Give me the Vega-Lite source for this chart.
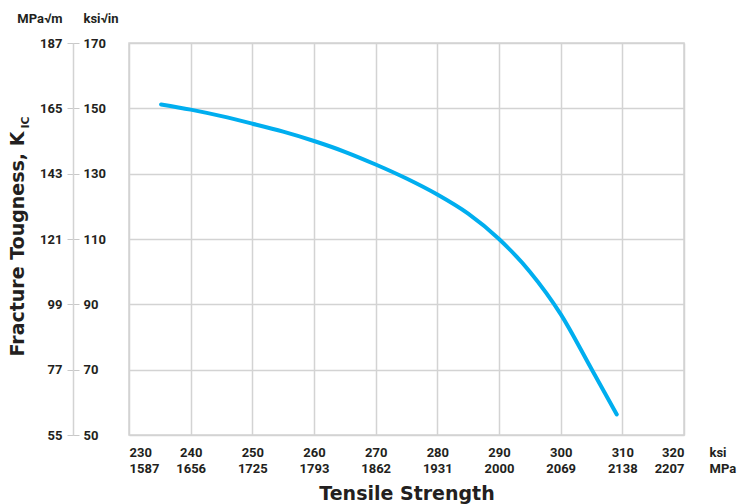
{
  "$schema": "https://vega.github.io/schema/vega-lite/v6.json",
  "width": 555,
  "height": 392,
  "autosize": "none",
  "padding": {"left": 129, "top": 43, "right": 55, "bottom": 69},
  "background": "white",
  "config": {
    "view": {"stroke": "#d3d3d3", "strokeWidth": 1.5},
    "axis": {
      "labelFont": "Roboto", "labelFontWeight": "bold", "labelFontSize": 13, "labelColor": "#231f20",
      "titleFont": "Roboto", "titleFontWeight": "bold", "titleColor": "#231f20",
      "gridColor": "#d3d3d3", "gridWidth": 1.5, "gridOpacity": 1
    }
  },
  "data": {"values": [
    {"ksi": 235.2, "k": 151.2},
    {"ksi": 240, "k": 149.6},
    {"ksi": 245, "k": 147.6},
    {"ksi": 250, "k": 145.3},
    {"ksi": 255, "k": 142.85},
    {"ksi": 260, "k": 140.0},
    {"ksi": 265, "k": 136.7},
    {"ksi": 270, "k": 132.8},
    {"ksi": 275, "k": 128.5},
    {"ksi": 280, "k": 123.6},
    {"ksi": 285, "k": 117.75},
    {"ksi": 290, "k": 110.0},
    {"ksi": 295, "k": 100.0},
    {"ksi": 300, "k": 87.0},
    {"ksi": 305, "k": 70.2},
    {"ksi": 309.1, "k": 56.3}
  ]},
  "layer": [
    {
      "mark": {"type": "line", "color": "#00aeef", "strokeWidth": 4, "interpolate": "monotone", "strokeCap": "round"},
      "encoding": {
        "x": {"field": "ksi", "type": "quantitative",
          "scale": {"domain": [230, 320], "nice": false, "zero": false},
          "axis": {"values": [230,240,250,260,270,280,290,300,310,320], "grid": true, "domain": false, "ticks": false, "tickSize": 0,
            "labelPadding": 11, "labelLineHeight": 16,
            "labelExpr": "[datum.label, ['1587','1656','1725','1793','1862','1931','2000','2069','2138','2207'][round((datum.value-230)/10)]]",
            "title": "Tensile Strength", "titleFont": "DejaVu Sans", "titleFontSize": 19, "titleBaseline": "alphabetic", "titleY": 64, "titleAnchor": "middle"}},
        "y": {"field": "k", "type": "quantitative",
          "scale": {"domain": [50, 170], "nice": false, "zero": false},
          "axis": {"orient": "left", "offset": 50, "values": [50,70,90,110,130,150,170], "grid": true, "domain": false,
            "ticks": true, "tickSize": 12, "tickColor": "#c8c8c8", "tickWidth": 1,
            "labelPadding": 5, "labelExpr": "format(datum.value*1.0988, 'd')",
            "title": "MPa√m", "titleAngle": 0, "titleAlign": "right", "titleBaseline": "middle", "titleFontSize": 13, "titleX": -17, "titleY": -25}}
      }
    },
    {
      "mark": {"type": "line", "opacity": 0},
      "encoding": {
        "x": {"field": "ksi", "type": "quantitative",
          "axis": {"orient": "bottom", "grid": false, "domain": false, "ticks": false, "labels": false,
            "title": ["ksi", "MPa"], "titleFontSize": 13, "titleAngle": 0, "titleAlign": "left", "titleBaseline": "top", "titleLineHeight": 16, "titleX": 580, "titleY": 11}},
        "y": {"field": "k", "type": "quantitative",
          "axis": {"orient": "left", "offset": 46, "values": [50,70,90,110,130,150,170], "grid": false, "domain": false,
            "ticks": false, "tickSize": 0, "labelPadding": 0, "labelAlign": "left",
            "title": "ksi√in", "titleAngle": 0, "titleAlign": "left", "titleBaseline": "middle", "titleFontSize": 13, "titleX": 0, "titleY": -25}}
      }
    },
    {
      "mark": {"type": "line", "opacity": 0},
      "encoding": {
        "x": {"field": "ksi", "type": "quantitative", "axis": null},
        "y": {"field": "k", "type": "quantitative",
          "axis": {"orient": "left", "offset": 56, "grid": false, "domain": true, "domainColor": "#d3d3d3", "domainWidth": 1.5,
            "ticks": false, "labels": false,
            "title": "Fracture Tougness, K", "titleFont": "DejaVu Sans", "titleFontSize": 19, "titleAngle": 270, "titleAlign": "left", "titleBaseline": "alphabetic", "titleX": -50, "titleY": 313}}
      }
    },
    {
      "mark": {"type": "line", "opacity": 0},
      "encoding": {
        "x": {"field": "ksi", "type": "quantitative", "axis": null},
        "y": {"field": "k", "type": "quantitative",
          "axis": {"orient": "left", "offset": 56, "grid": false, "domain": false, "ticks": false, "labels": false,
            "title": "IC", "titleFont": "DejaVu Sans", "titleFontSize": 11, "titleAngle": 270, "titleAlign": "left", "titleBaseline": "alphabetic", "titleX": -45, "titleY": 85}}
      }
    }
  ],
  "resolve": {"axis": {"x": "independent", "y": "independent"}}
}
